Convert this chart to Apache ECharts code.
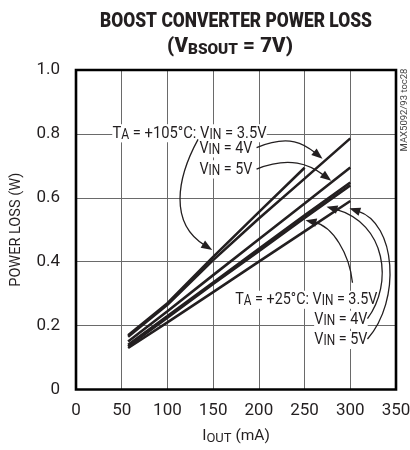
<!DOCTYPE html>
<html><head><meta charset="utf-8">
<script src="https://cdn.jsdelivr.net/npm/echarts@6/dist/echarts.min.js"></script>
<style>html,body{margin:0;padding:0;background:#fff}#c{width:410px;height:450px}</style>
</head><body><div id="c"></div>
<script>
const FONT = 'Roboto, "Liberation Sans", sans-serif';
const INK = '#231f20';

// axis ticks
const xTicks = [0, 50, 100, 150, 200, 250, 300, 350];
const yTicks = [0, 0.2, 0.4, 0.6, 0.8, 1.0];

// IOUT (mA) sample points
const ioutShort = [57, 100, 150, 200, 250];
const iout = [57, 100, 150, 200, 250, 300];

// power loss (W)
const loss105_35 = [0.170, 0.270, 0.415, 0.555, 0.694];
const loss105_4  = [0.165, 0.265, 0.405, 0.535, 0.660, 0.786];
const loss105_5  = [0.150, 0.245, 0.358, 0.470, 0.582, 0.695];
const loss25_35  = [0.140, 0.230, 0.335, 0.440, 0.545, 0.648];
const loss25_4   = [0.135, 0.225, 0.330, 0.433, 0.537, 0.639];
const loss25_5   = [0.130, 0.210, 0.305, 0.400, 0.495, 0.590];

const seriesDefs = [
  ['TA=+105°C VIN=3.5V', ioutShort, loss105_35],
  ['TA=+105°C VIN=4V', iout, loss105_4],
  ['TA=+105°C VIN=5V', iout, loss105_5],
  ['TA=+25°C VIN=3.5V', iout, loss25_35],
  ['TA=+25°C VIN=4V', iout, loss25_4],
  ['TA=+25°C VIN=5V', iout, loss25_5]
];

// annotation labels: [x0 mA, x1 mA, W, segments]  (segments: [text, isSub])
const labels = [
  [39.9, 208.4, 0.802, [['T', 0], ['A', 1], [' = +105°C: V', 0], ['IN', 1], [' = 3.5V', 0]]],
  [135, 193, 0.755, [['V', 0], ['IN', 1], [' = 4V', 0]]],
  [135, 193, 0.689, [['V', 0], ['IN', 1], [' = 5V', 0]]],
  [174.1, 329.7, 0.281, [['T', 0], ['A', 1], [' = +25°C: V', 0], ['IN', 1], [' = 3.5V', 0]]],
  [260.7, 318.8, 0.218, [['V', 0], ['IN', 1], [' = 4V', 0]]],
  [260.7, 318.8, 0.155, [['V', 0], ['IN', 1], [' = 5V', 0]]]
];
const arrows = [
  [[133.5, 0.783], [110, 0.66], [102, 0.52], [149, 0.437]],
  [[197.5, 0.757], [233.6, 0.800], [250, 0.768], [269.6, 0.722]],
  [[197.5, 0.690], [233.5, 0.731], [255.4, 0.705], [279.1, 0.653]],
  [[302.4, 0.334], [299.1, 0.425], [281, 0.51], [251, 0.530]],
  [[318.8, 0.222], [347, 0.33], [340, 0.52], [274, 0.572]],
  [[318.8, 0.158], [356, 0.28], [350, 0.52], [299, 0.567]]
];

const chart = echarts.init(document.getElementById('c'));

chart.setOption({
  animation: false,
  grid: { left: 76, right: 14, top: 70, bottom: 60.5, outerBoundsMode: 'none', containLabel: false },
  xAxis: {
    type: 'value', min: 0, max: 350, interval: 50,
    axisLine: { show: false }, axisTick: { show: false },
    axisLabel: { fontFamily: FONT, fontSize: 17, color: INK, margin: 13 },
    splitLine: { show: true, lineStyle: { color: '#6a6a6a', width: 1 } },
    name: 'I{s|OUT} (mA)', nameLocation: 'middle', nameGap: 38,
    nameTextStyle: { fontFamily: FONT, fontSize: 15.5, color: INK, lineHeight: 18,
      rich: { s: { fontFamily: FONT, fontSize: 13, color: INK, lineHeight: 12, verticalAlign: 'bottom' } } }
  },
  yAxis: {
    type: 'value', min: 0, max: 1.0, interval: 0.2,
    axisLine: { show: false }, axisTick: { show: false },
    axisLabel: { fontFamily: FONT, fontSize: 17, color: INK, margin: 16,
      formatter: v => v === 0 ? '0' : v.toFixed(1) },
    splitLine: { show: true, lineStyle: { color: '#6a6a6a', width: 1 } },
    name: 'POWER LOSS (W)', nameLocation: 'middle', nameGap: 52,
    nameTextStyle: { fontFamily: FONT, fontSize: 14.5, color: INK }
  },
  series: seriesDefs.map(([name, xs, ys]) => ({
    name, type: 'line', symbol: 'none', smooth: false,
    lineStyle: { color: INK, width: 2.6 },
    data: xs.map((x, i) => [x, ys[i]])
  }))
});

function px(d) { return chart.convertToPixel({ gridIndex: 0 }, d); }

const ctx = document.createElement('canvas').getContext('2d');
function measure(segs, size, subSize, weight) {
  let w = 0;
  segs.forEach(([t, sub]) => {
    ctx.font = (weight || 'normal') + ' ' + (sub ? subSize : size) + 'px ' + FONT;
    w += ctx.measureText(t).width;
  });
  return w;
}
function richText(segs) {
  return segs.map(([t, sub]) => sub ? '{s|' + t + '}' : '{m|' + t + '}').join('');
}

const g = [];
// title
const titleSegs = [['BOOST CONVERTER POWER LOSS', 0]];
const tW = measure(titleSegs, 20, 15, '900');
g.push({ type: 'text', x: 100, y: 22, scaleX: 272 / tW, z: 50, style: {
  text: 'BOOST CONVERTER POWER LOSS', font: '900 20px ' + FONT, fill: INK, align: 'left', verticalAlign: 'middle' } });
const t2Segs = [['(V', 0], ['BSOUT', 1], [' = 7V)', 0]];
const t2W = measure(t2Segs, 20, 15, '900');
g.push({ type: 'text', x: 167, y: 47, scaleX: 126 / t2W, z: 50, style: {
  text: richText(t2Segs), fill: INK, align: 'left', verticalAlign: 'middle',
  rich: {
    m: { fontFamily: FONT, fontWeight: 900, fontSize: 20, lineHeight: 22, fill: INK },
    s: { fontFamily: FONT, fontWeight: 900, fontSize: 15, lineHeight: 14, verticalAlign: 'bottom', fill: INK } } } });
// watermark
g.push({ type: 'text', x: 405, y: 110, rotation: Math.PI / 2, z: 50, style: {
  text: 'MAX5092/93 toc28', font: '9.5px ' + FONT, fill: '#444', align: 'center', verticalAlign: 'middle' } });

labels.forEach(([x0, x1, y, segs]) => {
  const p0 = px([x0, y]), p1 = px([x1, y]);
  const w = measure(segs, 17, 14);
  g.push({ type: 'text', x: p0[0], y: p0[1], scaleX: (p1[0] - p0[0]) / w, z: 40, style: {
    text: richText(segs), align: 'left', verticalAlign: 'middle',
    backgroundColor: '#fff',
    rich: {
      m: { fontFamily: FONT, fontSize: 17, fill: INK, lineHeight: 18, backgroundColor: '#fff' },
      s: { fontFamily: FONT, fontSize: 14, fill: INK, lineHeight: 12, verticalAlign: 'bottom', backgroundColor: '#fff' } } } });
});

arrows.forEach(a => {
  const [p0, p1, p2, p3] = a.map(px);
  let dx = p3[0] - p2[0], dy = p3[1] - p2[1];
  const len = Math.hypot(dx, dy); dx /= len; dy /= len;
  const L = 11, W = 4.2;
  const b = [p3[0] - dx * L, p3[1] - dy * L];
  g.push({ type: 'bezierCurve', z: 45, shape: { x1: p0[0], y1: p0[1], cpx1: p1[0], cpy1: p1[1], cpx2: p2[0], cpy2: p2[1], x2: b[0] + dx * 2, y2: b[1] + dy * 2 },
    style: { stroke: INK, lineWidth: 1.3, fill: null } });
  g.push({ type: 'polygon', z: 45, shape: { points: [p3, [b[0] - dy * W, b[1] + dx * W], [b[0] + dy * W, b[1] - dx * W]] },
    style: { fill: INK } });
});

// plot frame
const tl = px([0, 1.0]), br = px([350, 0]);
g.push({ type: 'rect', z: 60, shape: { x: tl[0], y: tl[1], width: br[0] - tl[0], height: br[1] - tl[1] },
  style: { fill: null, stroke: '#000', lineWidth: 2.6 } });

chart.setOption({ graphic: g });
</script></body></html>
